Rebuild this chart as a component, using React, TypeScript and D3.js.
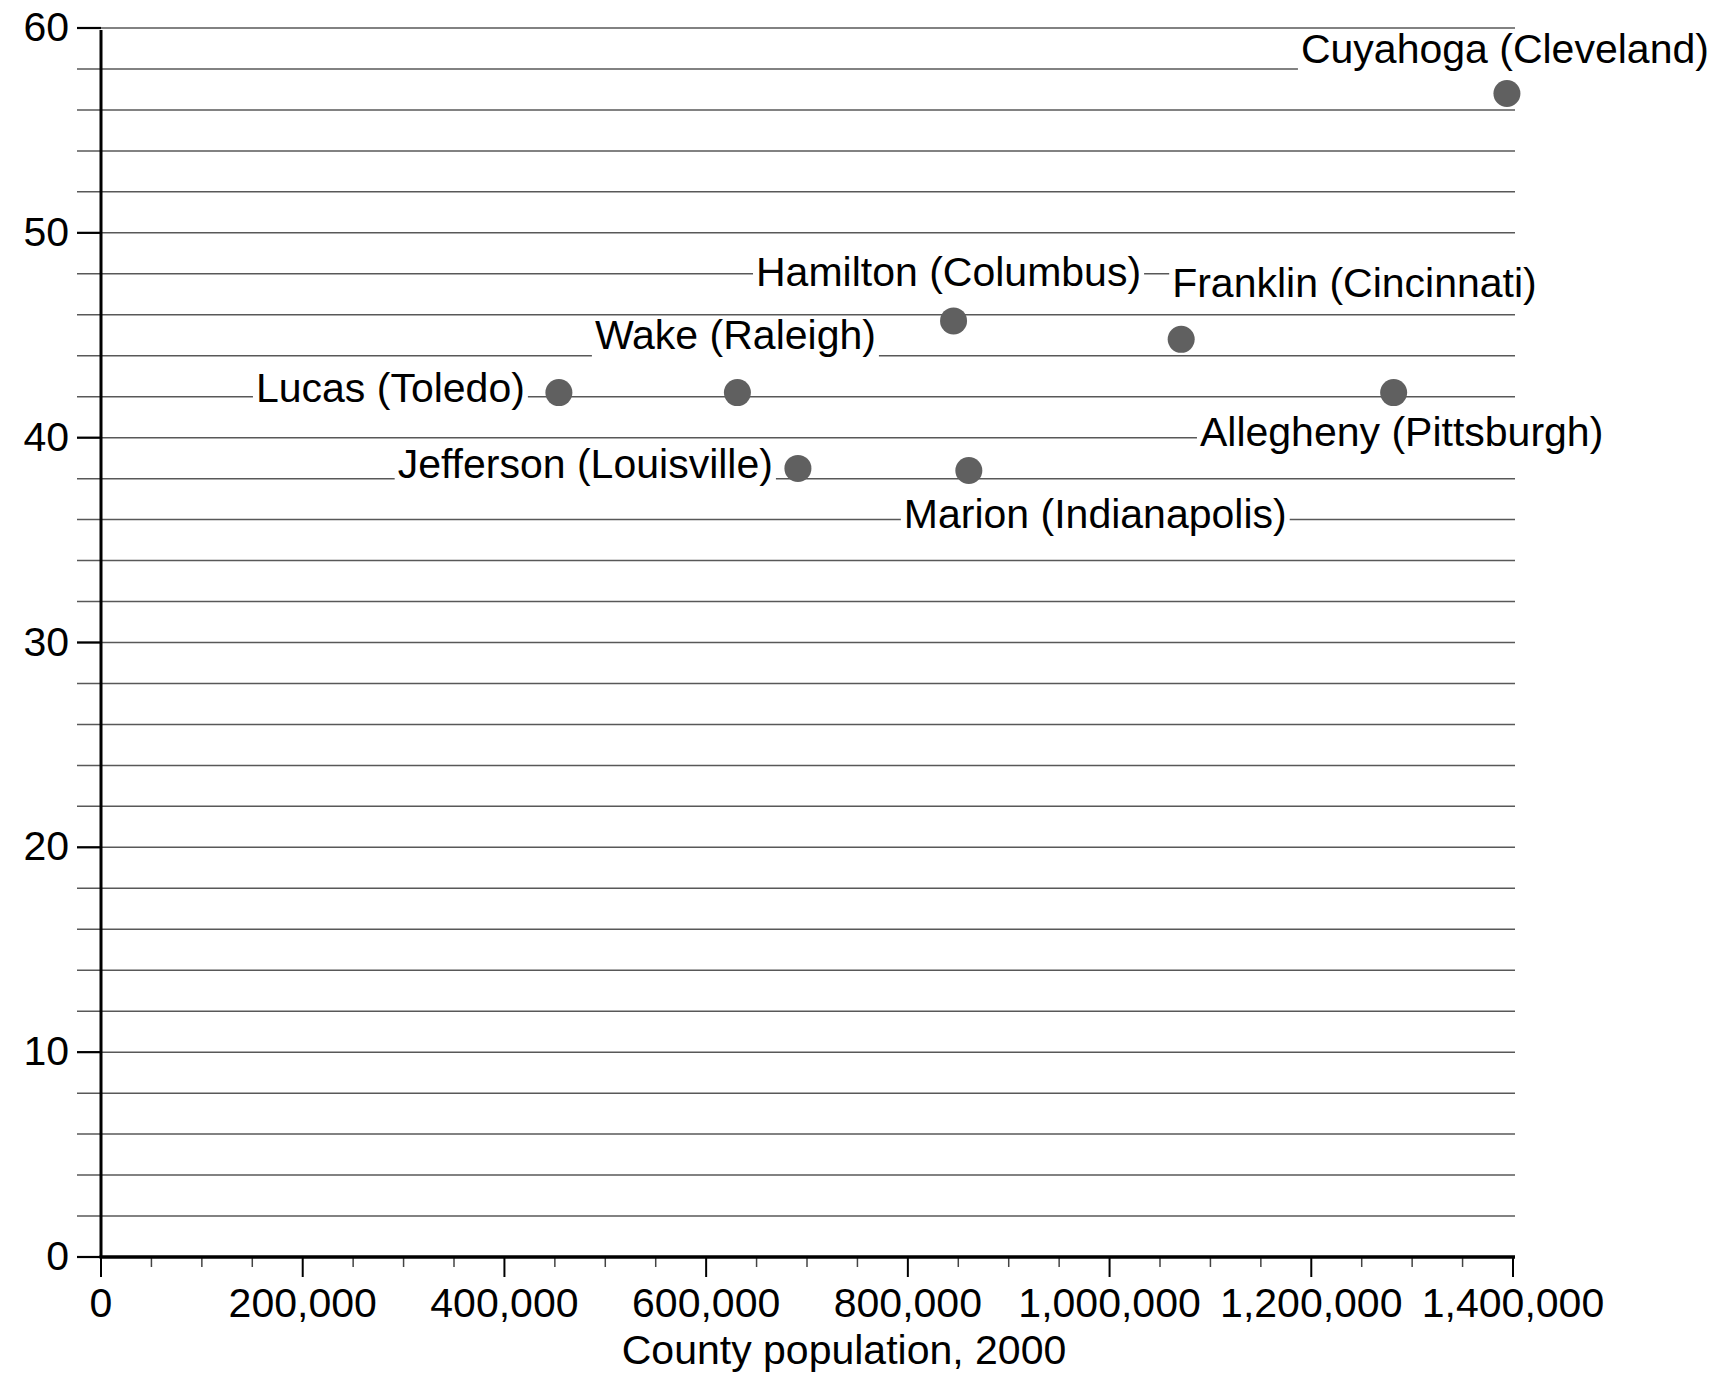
import React, { useEffect, useRef } from "react";
import * as d3 from "d3";

const counties = [
  "Cuyahoga (Cleveland)",
  "Franklin (Cincinnati)",
  "Allegheny (Pittsburgh)",
  "Hamilton (Columbus)",
  "Marion (Indianapolis)",
  "Jefferson (Louisville)",
  "Wake (Raleigh)",
  "Lucas (Toledo)",
];
const population = [1393978, 1071000, 1281666, 845303, 860454, 691000, 631000, 454000];
const values = [56.8, 44.8, 42.2, 45.7, 38.4, 38.5, 42.2, 42.2];

// label placement: anchor, dx, dy (baseline offset from point)
const labelAnchor = ["middle", "start", "middle", "middle", "start", "end", "middle", "end"];
const labelDx = [-2, -9, 8, -5, -65, -25, -2, -34];
const labelDy = [-31, -42, 53, -35, 58, 10, -44, 9];

const xTicks = [0, 200000, 400000, 600000, 800000, 1000000, 1200000, 1400000];
const yTicks = [0, 10, 20, 30, 40, 50, 60];
const xTitle = "County population, 2000";

const W = 1736;
const H = 1373;
const FONT = "'Liberation Sans', Arial, Helvetica, sans-serif";
const FS = 41;

export default function App() {
  const ref = useRef<SVGSVGElement | null>(null);

  useEffect(() => {
    const svg = d3.select(ref.current);
    svg.selectAll("*").remove();

    const x = d3.scaleLinear().domain([0, 1400000]).range([101, 1513]);
    const y = d3.scaleLinear().domain([0, 60]).range([1257, 28]);
    const gridLeft = 77;
    const gridRight = 1515;

    const g = svg.append("g");

    // minor gridlines every 2 units
    const grid = d3.range(2, 61, 2);
    g.selectAll("line.grid")
      .data(grid)
      .join("line")
      .attr("x1", gridLeft)
      .attr("x2", gridRight)
      .attr("y1", (d) => y(d))
      .attr("y2", (d) => y(d))
      .attr("stroke", "#585858")
      .attr("stroke-width", 1.5);

    // major y ticks
    g.selectAll("line.ytick")
      .data(yTicks)
      .join("line")
      .attr("x1", gridLeft)
      .attr("x2", x(0))
      .attr("y1", (d) => y(d))
      .attr("y2", (d) => y(d))
      .attr("stroke", "#000")
      .attr("stroke-width", 2.2);

    // y tick labels
    g.selectAll("text.ylab")
      .data(yTicks)
      .join("text")
      .attr("x", 69)
      .attr("y", (d) => y(d) + 13)
      .attr("text-anchor", "end")
      .attr("font-family", FONT)
      .attr("font-size", FS)
      .attr("fill", "#000")
      .text((d) => String(d));

    // x ticks (minor every 50k, major every 200k)
    const xMinor = d3.range(0, 1400001, 50000);
    g.selectAll("line.xminor")
      .data(xMinor)
      .join("line")
      .attr("x1", (d) => x(d))
      .attr("x2", (d) => x(d))
      .attr("y1", y(0))
      .attr("y2", (d) => (d % 200000 === 0 ? y(0) + 20 : y(0) + 10))
      .attr("stroke", (d) => (d % 200000 === 0 ? "#000" : "#444"))
      .attr("stroke-width", (d) => (d % 200000 === 0 ? 2 : 1.5));

    // x tick labels
    const fmt = d3.format(",");
    g.selectAll("text.xlab")
      .data(xTicks)
      .join("text")
      .attr("x", (d) => x(d))
      .attr("y", 1317)
      .attr("text-anchor", "middle")
      .attr("font-family", FONT)
      .attr("font-size", FS)
      .attr("fill", "#000")
      .text((d) => fmt(d));

    // x title
    g.append("text")
      .attr("x", 844)
      .attr("y", 1364)
      .attr("text-anchor", "middle")
      .attr("font-family", FONT)
      .attr("font-size", FS)
      .attr("fill", "#000")
      .text(xTitle);

    // axes lines
    g.append("line")
      .attr("x1", x(0))
      .attr("x2", x(0))
      .attr("y1", 30)
      .attr("y2", y(0) + 1)
      .attr("stroke", "#000")
      .attr("stroke-width", 3);
    g.append("line")
      .attr("x1", x(0) - 1.5)
      .attr("x2", gridRight)
      .attr("y1", y(0))
      .attr("y2", y(0))
      .attr("stroke", "#000")
      .attr("stroke-width", 3.5);

    // labels with white background
    const idx = d3.range(counties.length);
    const lab = g.selectAll("g.lab").data(idx).join("g");
    lab.each(function (i) {
      const sel = d3.select(this);
      const px = x(population[i]) + labelDx[i];
      const py = y(values[i]) + labelDy[i];
      const rect = sel.append("rect").attr("fill", "#fff");
      const t = sel
        .append("text")
        .attr("x", px)
        .attr("y", py)
        .attr("text-anchor", labelAnchor[i])
        .attr("font-family", FONT)
        .attr("font-size", FS)
        .attr("fill", "#000")
        .text(counties[i]);
      const bb = (t.node() as SVGTextElement).getBBox();
      rect
        .attr("x", bb.x - 3)
        .attr("width", bb.width + 6)
        .attr("y", py - 31)
        .attr("height", 42);
    });

    // points
    g.selectAll("circle.pt")
      .data(idx)
      .join("circle")
      .attr("cx", (i) => x(population[i]))
      .attr("cy", (i) => y(values[i]))
      .attr("r", 13.5)
      .attr("fill", "#606060");
  }, []);

  return (
    <svg
      ref={ref}
      width={W}
      height={H}
      style={{ position: "absolute", left: 0, top: 0, background: "#fff" }}
    />
  );
}
